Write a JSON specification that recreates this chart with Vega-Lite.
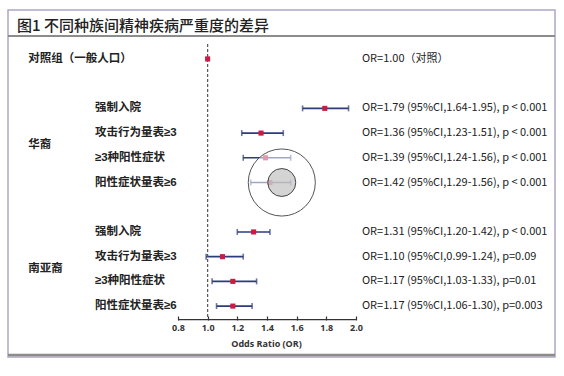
{
  "$schema": "https://vega.github.io/schema/vega-lite/v6.json",
  "width": 547,
  "height": 347,
  "autosize": "none",
  "padding": {"left": 8, "top": 10, "right": 9, "bottom": 19},
  "background": "white",
  "config": {
    "view": {"stroke": "#aea5c2", "strokeWidth": 1.5},
    "font": "Noto Sans CJK SC"
  },
  "title": {
    "text": "图1 不同种族间精神疾病严重度的差异",
    "anchor": "start",
    "frame": "group",
    "offset": 0,
    "dx": 9,
    "dy": 24,
    "fontSize": 15,
    "fontWeight": 500,
    "color": "#222222"
  },
  "datasets": {
    "results": [
      {"group": "对照组（一般人口）", "label": null, "row": 0, "or": 1.00, "lo": 1.00, "hi": 1.00, "text": "OR=1.00（对照）"},
      {"group": "华裔", "label": "强制入院", "row": 2, "or": 1.79, "lo": 1.64, "hi": 1.95, "text": "OR=1.79 (95%CI,1.64-1.95), p < 0.001"},
      {"group": "华裔", "label": "攻击行为量表≥3", "row": 3, "or": 1.36, "lo": 1.23, "hi": 1.51, "text": "OR=1.36 (95%CI,1.23-1.51), p < 0.001"},
      {"group": "华裔", "label": "≥3种阳性症状", "row": 4, "or": 1.39, "lo": 1.24, "hi": 1.56, "text": "OR=1.39 (95%CI,1.24-1.56), p < 0.001"},
      {"group": "华裔", "label": "阳性症状量表≥6", "row": 5, "or": 1.42, "lo": 1.29, "hi": 1.56, "text": "OR=1.42 (95%CI,1.29-1.56), p < 0.001"},
      {"group": "南亚裔", "label": "强制入院", "row": 7, "or": 1.31, "lo": 1.20, "hi": 1.42, "text": "OR=1.31 (95%CI,1.20-1.42), p < 0.001"},
      {"group": "南亚裔", "label": "攻击行为量表≥3", "row": 8, "or": 1.10, "lo": 0.99, "hi": 1.24, "text": "OR=1.10 (95%CI,0.99-1.24), p=0.09"},
      {"group": "南亚裔", "label": "≥3种阳性症状", "row": 9, "or": 1.17, "lo": 1.03, "hi": 1.33, "text": "OR=1.17 (95%CI,1.03-1.33), p=0.01"},
      {"group": "南亚裔", "label": "阳性症状量表≥6", "row": 10, "or": 1.17, "lo": 1.06, "hi": 1.30, "text": "OR=1.17 (95%CI,1.06-1.30), p=0.003"}
    ],
    "highlight": [
      {"or": 1.5, "row": 5}
    ],
    "single": [{}]
  },
  "data": {"name": "results"},
  "layer": [
    {
      "data": {"name": "results"},
      "transform": [{"filter": "datum.hi > datum.lo"}],
      "mark": {"type": "rule", "color": "#2d3a7c", "strokeWidth": 1.6},
      "encoding": {
        "x": {
          "field": "lo",
          "type": "quantitative",
          "scale": {"domain": [-0.346, 3.342], "nice": false, "zero": false},
          "axis": {
            "values": [0.8, 1.0, 1.2, 1.4, 1.6, 1.8, 2.0],
            "format": ".1f",
            "domain": false,
            "grid": false,
            "offset": -37,
            "tickSize": -4,
            "tickColor": "#333333",
            "tickWidth": 1.2,
            "labelFontSize": 9,
            "labelFontWeight": "bold",
            "labelColor": "#333333",
            "labelFont": "Open Sans",
            "labelPadding": 7,
            "title": "Odds Ratio (OR)",
            "titleFont": "Open Sans",
            "titleFontSize": 9,
            "titleFontWeight": "bold",
            "titleColor": "#333333",
            "titleX": 258,
            "titlePadding": 7
          }
        },
        "x2": {"field": "hi"},
        "y": {
          "field": "row",
          "type": "quantitative",
          "scale": {"domain": [-1.98, 12.06], "nice": false, "zero": false, "reverse": true},
          "axis": null
        }
      }
    },
    {
      "data": {"name": "single"},
      "mark": {"type": "rule", "color": "#8c8c8c", "strokeWidth": 2},
      "encoding": {"y": {"datum": -0.93, "type": "quantitative"}}
    },
    {
      "data": {"name": "single"},
      "mark": {"type": "rule", "color": "#8c8c8c", "strokeWidth": 2.5},
      "encoding": {"y": {"datum": 11.98, "type": "quantitative"}}
    },
    {
      "data": {"name": "single"},
      "mark": {"type": "rule", "color": "#555555", "strokeWidth": 1.2, "strokeDash": [3, 2]},
      "encoding": {
        "x": {"datum": 1.0, "type": "quantitative"},
        "y": {"datum": -0.6, "type": "quantitative"},
        "y2": {"datum": 10.55}
      }
    },
    {
      "data": {"name": "single"},
      "mark": {"type": "rule", "color": "#333333", "strokeWidth": 1.2},
      "encoding": {
        "x": {"datum": 0.8, "type": "quantitative"},
        "x2": {"datum": 2.0},
        "y": {"datum": 10.55, "type": "quantitative"}
      }
    },
    {
      "data": {"name": "results"},
      "transform": [
        {"filter": "datum.hi > datum.lo"},
        {"fold": ["lo", "hi"], "as": ["end", "value"]}
      ],
      "mark": {"type": "tick", "orient": "vertical", "color": "#2d3a7c", "size": 6, "thickness": 1.6},
      "encoding": {
        "x": {"field": "value", "type": "quantitative"},
        "y": {"field": "row", "type": "quantitative"}
      }
    },
    {
      "data": {"name": "results"},
      "mark": {"type": "point", "shape": "square", "filled": true, "color": "#cc1a44", "size": 26, "opacity": 1},
      "encoding": {
        "x": {"field": "or", "type": "quantitative"},
        "y": {"field": "row", "type": "quantitative"}
      }
    },
    {
      "data": {"name": "highlight"},
      "mark": {"type": "point", "shape": "circle", "size": 4500, "filled": false, "fill": "white", "fillOpacity": 0.55, "stroke": "#555555", "strokeWidth": 1, "strokeOpacity": 1, "opacity": 1},
      "encoding": {
        "x": {"field": "or", "type": "quantitative"},
        "y": {"field": "row", "type": "quantitative"}
      }
    },
    {
      "data": {"name": "highlight"},
      "mark": {"type": "point", "shape": "circle", "size": 780, "filled": false, "fill": "#bdbdbd", "fillOpacity": 0.65, "stroke": "#444444", "strokeWidth": 1, "strokeOpacity": 1, "opacity": 1},
      "encoding": {
        "x": {"field": "or", "type": "quantitative"},
        "y": {"field": "row", "type": "quantitative"}
      }
    },
    {
      "data": {"name": "results"},
      "transform": [{"filter": "datum.label != null"}],
      "mark": {"type": "text", "align": "left", "baseline": "middle", "fontSize": 11.5, "fontWeight": "bold", "color": "#222222", "font": "Liberation Sans, Noto Sans CJK SC"},
      "encoding": {
        "x": {"datum": 0.24, "type": "quantitative"},
        "y": {"field": "row", "type": "quantitative"},
        "text": {"field": "label"}
      }
    },
    {
      "data": {"name": "results"},
      "transform": [{"aggregate": [{"op": "mean", "field": "row", "as": "row"}], "groupby": ["group"]}],
      "mark": {"type": "text", "align": "left", "baseline": "middle", "fontSize": 11.5, "fontWeight": "bold", "color": "#222222"},
      "encoding": {
        "x": {"datum": -0.21, "type": "quantitative"},
        "y": {"field": "row", "type": "quantitative"},
        "text": {"field": "group"}
      }
    },
    {
      "data": {"name": "results"},
      "mark": {"type": "text", "align": "left", "baseline": "middle", "fontSize": 11, "color": "#222222"},
      "encoding": {
        "x": {"datum": 2.04, "type": "quantitative"},
        "y": {"field": "row", "type": "quantitative"},
        "text": {"field": "text"}
      }
    }
  ]
}
